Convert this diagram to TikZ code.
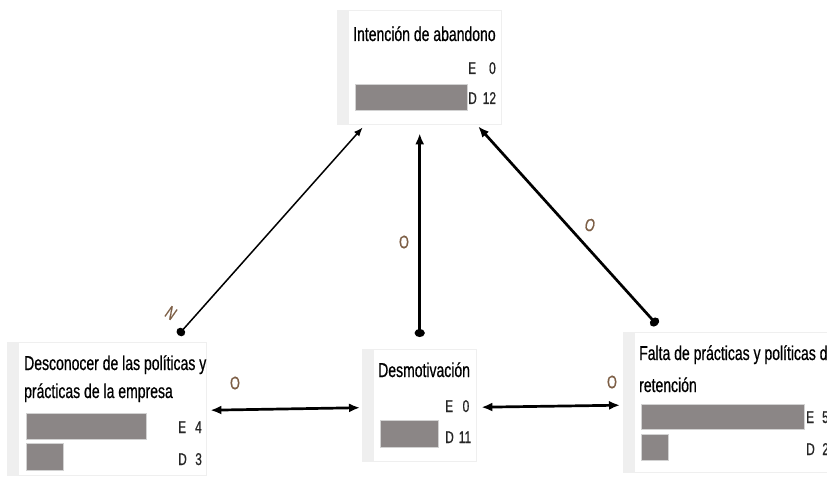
\documentclass[tikz,border=0pt]{standalone}
\usepackage{fontspec}
\setmainfont{Liberation Sans}[FakeStretch=0.70, FakeBold=0.6]
\usepackage{tikz}
\usetikzlibrary{arrows.meta, positioning}

\definecolor{barfill}{RGB}{139,134,134}
\definecolor{relcol}{RGB}{125,95,70}
\definecolor{panelgray}{RGB}{239,239,239}

\tikzset{
  panel/.style={fill=panelgray, anchor=north west, inner sep=0pt,
    path picture={\fill[white] ([xshift=12pt,yshift=-1pt]path picture bounding box.north west)
      rectangle ([xshift=-1pt,yshift=1pt]path picture bounding box.south east);}},
  ttl/.style={anchor=base west, inner sep=0pt, font=\fontsize{20}{28}\selectfont, text=black},
  cnt/.style={anchor=base west, inner sep=0pt, font=\fontsize{17}{18}\selectfont, text=black!85},
  bar/.style={fill=barfill, draw=gray!35, anchor=north west, inner sep=0pt},
  rel/.style={font=\fontsize{18}{18}\selectfont, text=relcol, inner sep=0pt},
  link/.style={line width=1.5pt, -{Latex[length=9pt,width=7pt]}},
  strong/.style={line width=2.7pt},
}

\begin{document}
\begin{tikzpicture}[x=1pt, y=-1pt]
   \useasboundingbox (0,0) rectangle (827,478);

   % Boxes
   \node[panel, minimum width=165pt, minimum height=115pt] (ab) at (337,10) {};
   \node[panel, minimum width=200pt, minimum height=134pt] (de) at (7,342) {};
   \node[panel, minimum width=115pt, minimum height=113pt] (dm) at (362,349) {};
   \node[panel, minimum width=217pt, minimum height=141pt] (fa) at (623,332) {};

   % Intencion de abandono
   \node[ttl] (abT) at (353,41) {Intención de abandono};
   \node[cnt] (abE) at (468,74) {E\hspace{13pt}0};
   \node[bar, minimum width=112pt, minimum height=26pt] (abDbar) at (355,84) {};
   \node[cnt] (abD) at (468,104) {D\hspace{6pt}12};

   % Desconocer
   \node[ttl] (deT1) at (24,370) {Desconocer de las políticas y};
   \node[ttl] (deT2) at (24,398) {prácticas de la empresa};
   \node[bar, minimum width=120pt, minimum height=26pt] (deEbar) at (26,413) {};
   \node[bar, minimum width=37pt, minimum height=27pt] (deDbar) at (26,443) {};
   \node[cnt] (deE) at (178,433) {E\hspace{9pt}4};
   \node[cnt] (deD) at (178,465) {D\hspace{8.5pt}3};

   % Desmotivacion
   \node[ttl] (dmT) at (378,377) {Desmotivación};
   \node[cnt] (dmE) at (445,412) {E\hspace{9.5pt}0};
   \node[bar, minimum width=58pt, minimum height=27pt] (dmDbar) at (380,420) {};
   \node[cnt] (dmD) at (445,443) {D\hspace{5pt}11};

   % Falta de practicas
   \node[ttl] (faT1) at (639,360) {Falta de prácticas y políticas de};
   \node[ttl] (faT2) at (639,392) {retención};
   \node[bar, minimum width=163pt, minimum height=25pt] (faEbar) at (641,404) {};
   \node[bar, minimum width=27pt, minimum height=26pt] (faDbar) at (641,434) {};
   \node[cnt] (faE) at (806,423) {E\hspace{8pt}5};
   \node[cnt] (faD) at (806,455) {D\hspace{7.5pt}2};

   % Links
   \draw[link, {Circle[length=8pt,width=9pt]}-{Latex[length=9pt,width=7pt]}]
     ([xshift=71pt,yshift=7pt]de.north) -- ([xshift=-57pt,yshift=-2pt]ab.south);
   \draw[strong, {Circle[length=8pt,width=10pt]}-{Latex[length=11pt,width=9pt]}]
     ([yshift=12pt]dm.north) -- ([yshift=-8pt]ab.south);
   \draw[strong, {Circle[length=8pt,width=10pt]}-{Latex[length=11pt,width=9pt]}]
     ([xshift=-74.5pt,yshift=7pt]fa.north) -- ([xshift=58.5pt,yshift=-1pt]ab.south);
   \draw[strong, {Latex[length=11pt,width=9pt]}-{Latex[length=11pt,width=9pt]}]
     ([xshift=3pt,yshift=-1pt]de.east) -- ([xshift=-2pt,yshift=-2pt]dm.west);
   \draw[strong, {Latex[length=11pt,width=9pt]}-{Latex[length=11pt,width=9pt]}]
     ([xshift=4pt,yshift=-1.5pt]dm.east) -- ([xshift=-3pt,yshift=-2.5pt]fa.west);

   % Link labels
   \node[rel, rotate=-35] (nDe) at (171,313) {N};
   \node[rel] (oDm) at (404,242) {O};
   \node[rel, rotate=-15] (oFa) at (590,225) {O};
   \node[rel] (oDeDm) at (235,383) {O};
   \node[rel] (oDmFa) at (612,382) {O};
\end{tikzpicture}
\end{document}
